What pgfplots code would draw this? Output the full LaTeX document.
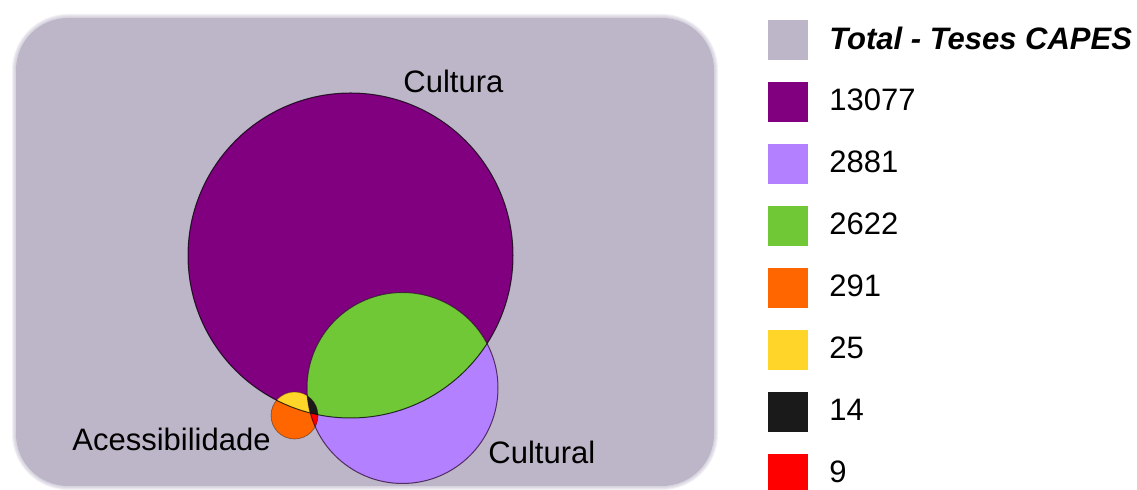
\documentclass[border=0pt]{standalone}
\usepackage{pgfplots}
\pgfplotsset{compat=1.18}
\usepackage{fontspec}
\setmainfont{Liberation Sans}
\definecolor{cBg}{RGB}{189,182,201}
\definecolor{cPurple}{RGB}{128,0,128}
\definecolor{cLav}{RGB}{179,128,255}
\definecolor{cGreen}{RGB}{113,200,55}
\definecolor{cOrange}{RGB}{255,102,0}
\definecolor{cYellow}{RGB}{255,213,42}
\definecolor{cBlack}{RGB}{26,26,26}
\definecolor{cRed}{RGB}{255,0,0}
\begin{document}
\fontsize{15.5}{18}\selectfont
\begin{tikzpicture}
\begin{axis}[
  hide axis, scale only axis,
  width=568.5pt, height=245pt,
  xmin=0, xmax=1137, ymin=0, ymax=490,
  y dir=reverse, clip=false,
  legend image code/.code={\fill[#1, draw=none] (0pt,-10pt) rectangle (20pt,10pt); \path (30.5pt,0pt);},
  legend cell align=left,
  legend style={at={(axis cs:768,20.5)}, anchor=north west, draw=none, fill=none,
    inner sep=0pt, outer sep=0pt, row sep=11pt,
    nodes={inner sep=0pt, outer sep=0pt},
    font=\fontsize{15.5}{18}\selectfont},
]
\addplot[draw=none, forget plot] coordinates {(0,0)};
% background with soft edge
\fill[cBg, opacity=0.2, rounded corners=28pt] (axis cs:12,14) rectangle (axis cs:718,490);
\fill[cBg, opacity=0.2, rounded corners=27.5pt] (axis cs:13,15) rectangle (axis cs:717,489);
\fill[cBg, opacity=0.2, rounded corners=27pt] (axis cs:14,16) rectangle (axis cs:716,488);
\fill[cBg, opacity=0.2, rounded corners=26.5pt] (axis cs:15,17) rectangle (axis cs:715,487);
\fill[cBg, rounded corners=26pt] (axis cs:16,18) rectangle (axis cs:714,486);
% circles: Cultura (350.5,255.5) r 162.5; Cultural (402.5,388) r 95.5; Acessibilidade (294.5,415.5) r 23.5
\fill[cPurple] (axis cs:350.5,255.5) circle[radius=162.5];
\fill[cLav] (axis cs:402.5,388) circle[radius=95.5];
\fill[cOrange] (axis cs:294.5,415.5) circle[radius=23.5];
\begin{scope}
  \clip (axis cs:350.5,255.5) circle[radius=162.5];
  \fill[cGreen] (axis cs:402.5,388) circle[radius=95.5];
  \fill[cYellow] (axis cs:294.5,415.5) circle[radius=23.5];
  \begin{scope}
    \clip (axis cs:402.5,388) circle[radius=95.5];
    \fill[cBlack] (axis cs:294.5,415.5) circle[radius=23.5];
  \end{scope}
\end{scope}
\begin{scope}
  \clip (axis cs:402.5,388) circle[radius=95.5];
  \begin{scope}[even odd rule]
    \clip (axis cs:350.5,255.5) circle[radius=162.5] (axis cs:0,0) rectangle (axis cs:1137,490);
    \fill[cRed] (axis cs:294.5,415.5) circle[radius=23.5];
  \end{scope}
\end{scope}
\draw[black, opacity=0.75, line width=0.5pt] (axis cs:350.5,255.5) circle[radius=162.5];
\draw[black!70!cPurple, opacity=0.7, line width=0.5pt] (axis cs:402.5,388) circle[radius=95.5];
\draw[black, opacity=0.35, line width=0.4pt] (axis cs:294.5,415.5) circle[radius=23.5];
% labels
\node[anchor=base west, inner sep=0pt] at (axis cs:403,93) {Cultura};
\node[anchor=base west, inner sep=0pt] at (axis cs:72,451) {Acessibilidade};
\node[anchor=base west, inner sep=0pt] at (axis cs:488,464) {Cultural};
% legend
\addlegendimage{fill=cBg}
\addlegendentry{\textbf{\textit{Total - Teses CAPES}}}
\addlegendimage{fill=cPurple}
\addlegendentry{13077}
\addlegendimage{fill=cLav}
\addlegendentry{2881}
\addlegendimage{fill=cGreen}
\addlegendentry{2622}
\addlegendimage{fill=cOrange}
\addlegendentry{291}
\addlegendimage{fill=cYellow}
\addlegendentry{25}
\addlegendimage{fill=cBlack}
\addlegendentry{14}
\addlegendimage{fill=cRed}
\addlegendentry{9}
\end{axis}
\pgfresetboundingbox
\path[use as bounding box] (current axis.south west) rectangle (current axis.north east);
\end{tikzpicture}
\end{document}
